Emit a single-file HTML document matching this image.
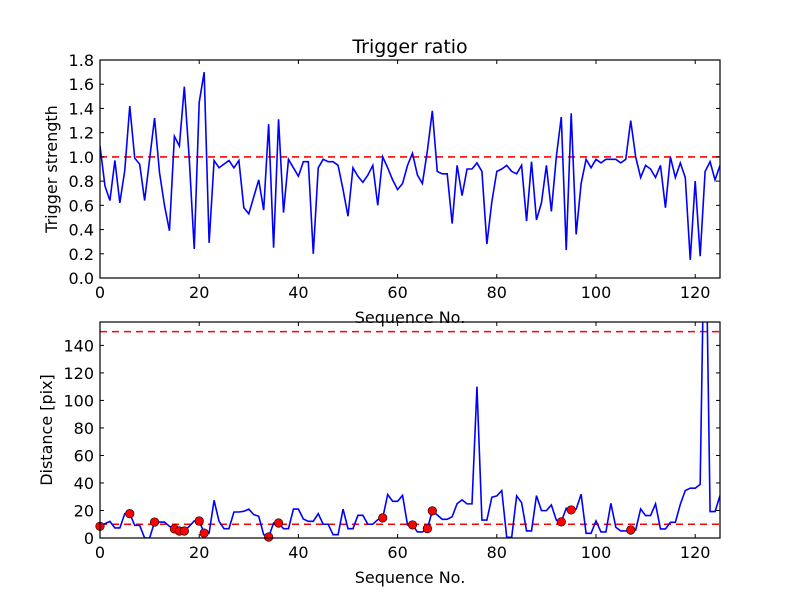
<!DOCTYPE html>
<html><head><meta charset="utf-8"><style>
body{margin:0;background:#fff;width:800px;height:600px;overflow:hidden}
svg{display:block;font-family:"DejaVu Sans","Liberation Sans",sans-serif}
</style></head><body>
<svg id="chart" width="800" height="600"></svg>
<script>
const ratioValues=[1.09,0.76,0.64,0.97,0.62,0.89,1.42,0.99,0.94,0.64,0.98,1.32,0.87,0.6,0.39,1.17,1.09,1.58,0.98,0.24,1.45,1.70,0.29,0.97,0.91,0.94,0.97,0.91,0.97,0.58,0.53,0.67,0.81,0.56,1.27,0.25,1.31,0.54,0.98,0.91,0.84,0.96,0.96,0.20,0.91,0.98,0.96,0.96,0.93,0.73,0.51,0.91,0.84,0.79,0.85,0.93,0.60,1.0,0.91,0.81,0.73,0.78,0.93,1.03,0.85,0.78,1.05,1.38,0.88,0.86,0.86,0.45,0.93,0.68,0.90,0.90,0.95,0.88,0.28,0.63,0.88,0.90,0.93,0.88,0.86,0.93,0.47,0.96,0.48,0.62,0.93,0.55,1.0,1.33,0.23,1.36,0.36,0.78,0.98,0.91,0.98,0.95,0.98,0.98,0.98,0.95,0.98,1.30,1.0,0.83,0.93,0.90,0.83,0.93,0.58,1.0,0.83,0.95,0.83,0.15,0.80,0.18,0.88,0.96,0.81,0.93];
const distValues=[8.5,10.4,12.1,7.3,7.3,17.7,17.7,9.2,9.2,0,0,11.6,11.6,11.6,8.5,6.6,5.1,5.1,8.5,12.4,12.4,3.6,3.6,27.4,12.1,6.8,6.8,18.9,18.9,19.4,21,17,15.8,2.4,0.7,10.9,10.9,6.8,6.8,21,21,13.8,12.1,12.1,17.7,10,10,2.4,2.4,21,6.8,6.8,16.5,16.5,10,10,13.3,14.6,31.6,26.7,26.7,31,9.5,9.5,4.4,4.4,6.8,19.7,16.7,13.6,13.6,15.5,25,27.7,24.8,24.8,110,13,13,29.6,30.6,34.5,0.5,0.5,30.6,25.7,5.1,5.1,30.8,19.9,19.9,24,13,11.7,21.6,20.4,21,31.8,3.4,3.4,12.4,4.4,4.4,25.2,7.8,5.1,5.1,5.8,5.8,21.1,16.3,16.3,24.8,6.6,6.6,11.4,11.4,24.5,34.5,36.2,36.2,39,265,19.2,19.2,30.8];
const triggerIndices=[0,6,11,15,16,17,20,21,34,36,57,63,66,67,93,95,107];
const xTicks=[0,20,40,60,80,100,120];
const ratioTicks=[0,0.2,0.4,0.6,0.8,1.0,1.2,1.4,1.6,1.8];
const distTicks=[0,20,40,60,80,100,120,140];
const ratioThreshold=[1.0];
const distThresholds=[10,150];

const svg=document.getElementById('chart');
const NS='http://www.w3.org/2000/svg';
function mk(tag,attrs,parent,text){const e=document.createElementNS(NS,tag);for(const k in attrs)e.setAttribute(k,attrs[k]);if(text!==undefined)e.textContent=text;(parent||svg).appendChild(e);return e;}

function panel(cfg){
  const L=100,R=720,T=cfg.top,B=cfg.bottom;
  const xs=v=>L+(v-0)/(125-0)*(R-L);
  const ys=v=>B-(v-cfg.ymin)/(cfg.ymax-cfg.ymin)*(B-T);
  const g=mk('g',{});
  
  
  mk('defs',{},g).innerHTML='<clipPath id="clip-'+cfg.name+'"><rect x="'+L+'" y="'+T+'" width="'+(R-L)+'" height="'+(B-T)+'"/></clipPath>';
  const plot=mk('g',{'clip-path':'url(#clip-'+cfg.name+')'},g);
  cfg.thresholds.forEach(t=>{
    const l=mk('line',{x1:L,x2:R,y1:ys(t),y2:ys(t),stroke:'#ff0000','stroke-width':1.6,'stroke-dasharray':'7,5'},plot);
    
    
  });
  const pts=cfg.values.map((v,i)=>xs(i).toFixed(2)+','+ys(v).toFixed(2)).join(' ');
  const pl=mk('polyline',{points:pts,fill:'none',stroke:'#0000ff','stroke-width':1.6},plot);
  
  
  if(cfg.markers){
    triggerIndices.forEach(i=>{
      const c=mk('circle',{cx:xs(i),cy:ys(cfg.values[i]),r:4.3,fill:'#ff0000',stroke:'#000','stroke-width':0.6},g);
      
      
    });
  }
  mk('rect',{x:L,y:T,width:R-L,height:B-T,fill:'none',stroke:'#000','stroke-width':1.2},g);
  xTicks.forEach(t=>{
    const x=xs(t);
    mk('line',{x1:x,x2:x,y1:B,y2:B-4,stroke:'#000'},g);
    mk('line',{x1:x,x2:x,y1:T,y2:T+4,stroke:'#000'},g);
    const tx=mk('text',{x:x,y:B+20,'font-size':16,'text-anchor':'middle'},g,String(t));
    
    
  });
  cfg.ticks.forEach(t=>{
    const y=ys(t);
    mk('line',{x1:L,x2:L+4,y1:y,y2:y,stroke:'#000'},g);
    mk('line',{x1:R,x2:R-4,y1:y,y2:y,stroke:'#000'},g);
    const tx=mk('text',{x:L-6,y:y+6,'font-size':16,'text-anchor':'end'},g,cfg.fmt(t));
    
    
  });
  const xl=mk('text',{x:410,y:B+45,'font-size':16,'text-anchor':'middle'},g,'Sequence No.');
  
  
  const yl=mk('text',{x:0,y:0,'font-size':16,'text-anchor':'middle',transform:'translate('+cfg.ylx+','+((T+B)/2)+') rotate(-90)'},g,cfg.ylabel);
  
  
}
const title=mk('text',{x:410,y:53,'font-size':19,'text-anchor':'middle'},svg,'Trigger ratio');


panel({name:'ratio-panel',top:60,bottom:278,ymin:0,ymax:1.8,values:ratioValues,ticks:ratioTicks,thresholds:ratioThreshold,fmt:t=>t.toFixed(1),ylabel:'Trigger strength',ylx:57,markers:false});
panel({name:'distance-panel',top:322,bottom:538,ymin:0,ymax:157,values:distValues,ticks:distTicks,thresholds:distThresholds,fmt:t=>String(t),ylabel:'Distance [pix]',ylx:52,markers:true});
</script>
</body></html>
